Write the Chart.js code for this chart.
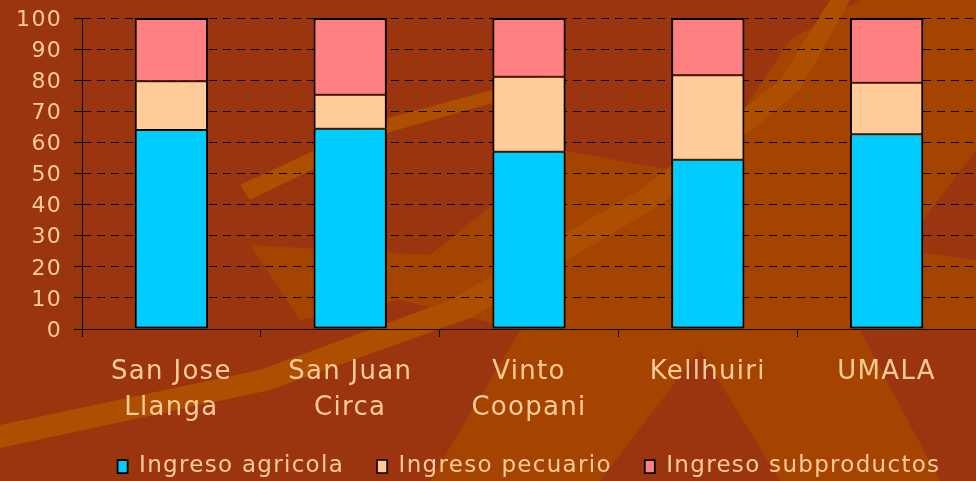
<!DOCTYPE html>
<html><head><meta charset="utf-8">
<script src="https://cdn.jsdelivr.net/npm/chart.js@4.4.1/dist/chart.umd.min.js"></script>
<style>
html,body{margin:0;padding:0;width:976px;height:481px;overflow:hidden;background:#9a3510;}
#wrap{position:relative;width:976px;height:481px;}
.shape{position:absolute;left:0;top:0;width:976px;height:481px;}
canvas{position:absolute;left:0;top:0;}
</style></head><body>
<div id="wrap">
<div class="shape" style="background:#a54300;clip-path:polygon(250px 245px,430px 255px,560px 150px,700px 175px,790px 40px,860px 0px,976px 0px,976px 150px,900px 250px,976px 260px,976px 330px,860px 330px,940px 481px,780px 481px,700px 350px,600px 481px,430px 481px,520px 330px,400px 300px,300px 320px)"></div>
<div class="shape" style="background:#ad4e00;clip-path:polygon(0px 425px,260px 370px,450px 300px,640px 190px,780px 80px,830px 0px,850px 0px,800px 90px,660px 205px,470px 318px,270px 390px,0px 448px)"></div>
<div class="shape" style="background:#ad4e00;clip-path:polygon(240px 185px,380px 120px,560px 72px,560px 84px,390px 132px,250px 200px)"></div>
<canvas id="c" width="976" height="481"></canvas>
</div>
<script>
const categories = [['San Jose','Llanga'],['San Juan','Circa'],['Vinto','Coopani'],'Kellhuiri','UMALA'];
const agricola = [64, 64.4, 57, 54.4, 62.6];
const pecuario = [15.7, 10.9, 24.1, 27.2, 16.6];
const subproductos = [20.3, 24.7, 18.9, 18.4, 20.8];
const seriesNames = ['Ingreso agricola','Ingreso pecuario','Ingreso subproductos'];
const yTicks = [0,10,20,30,40,50,60,70,80,90,100];

const textColor = '#ffcc99';
const ds = (label, data, color, bw) => ({
  label, data, backgroundColor: color, borderColor: '#000', borderWidth: bw,
  borderSkipped: false, barPercentage: 0.41, categoryPercentage: 1.0
});

const spacing = {
  id: 'spacing',
  beforeUpdate(c) { c.ctx.letterSpacing = '1.3px'; },
  beforeLayout(c) { c.ctx.letterSpacing = '1.3px'; },
  beforeDraw(c) { c.ctx.letterSpacing = '1.3px'; }
};

const chart = new Chart(document.getElementById('c'), {
  type: 'bar',
  data: {
    labels: categories,
    datasets: [
      ds(seriesNames[0], agricola, '#00ccff', {top:1,bottom:2,left:2,right:2}),
      ds(seriesNames[1], pecuario, '#ffcc99', {top:1,bottom:1,left:2,right:2}),
      ds(seriesNames[2], subproductos, '#ff8080', {top:2,bottom:1,left:2,right:2})
    ]
  },
  plugins: [spacing],
  options: {
    responsive: false,
    animation: false,
    layout: { padding: { top: 18, right: 0, left: 0, bottom: -7 } },
    plugins: {
      title: { display: false },
      tooltip: { enabled: false },
      legend: {
        position: 'bottom',
        fullSize: false,
        labels: {
          color: textColor,
          font: { family: 'DejaVu Sans', size: 23 },
          boxWidth: 10, boxHeight: 13, padding: 33,
          useBorderRadius: false
        }
      }
    },
    scales: {
      x: {
        stacked: true,
        offset: true,
        afterFit: s => { s.height = 93; s._computeLabelArea = () => undefined; },
        grid: { display: true, drawOnChartArea: false, drawTicks: true, tickLength: 8, tickColor: '#000', color: '#000', offset: true },
        border: { display: true, color: '#000', width: 1 },
        ticks: { color: textColor, font: { family: 'DejaVu Sans', size: 26, lineHeight: 1.38 }, padding: 17, maxRotation: 0, autoSkip: false }
      },
      y: {
        stacked: true,
        min: 0, max: 100,
        afterFit: s => { s.width = 82; s.paddingTop = 0; s.paddingBottom = 0; },
        afterBuildTicks: s => { s.ticks = yTicks.map(v => ({ value: v })); },
        grid: { color: '#000', lineWidth: 1, drawTicks: true, tickLength: 8, tickColor: '#000', tickBorderDash: [] },
        border: { display: true, color: '#000', width: 1, dash: [8, 6] },
        ticks: { color: textColor, font: { family: 'DejaVu Sans', size: 22 }, padding: 12, labelOffset: 2 }
      }
    }
  }
});
</script>
</body></html>
